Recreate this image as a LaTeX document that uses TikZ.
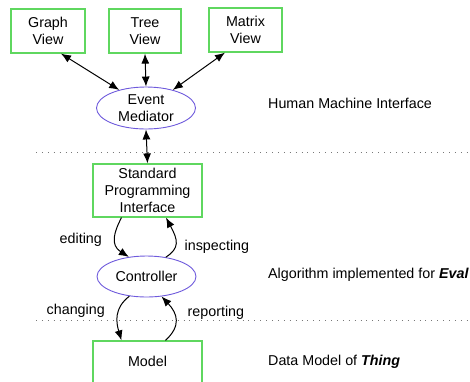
\documentclass[tikz,border=0pt]{standalone}
\usepackage{fontspec}
\setmainfont{Liberation Sans}
\usetikzlibrary{shapes.geometric,arrows.meta}
\definecolor{boxgreen}{RGB}{95,215,95}
\definecolor{ellblue}{RGB}{110,90,220}
\definecolor{dotgray}{RGB}{120,120,120}
\begin{document}
\begin{tikzpicture}[x=1pt,y=-1pt,
  font=\fontsize{14.3}{17}\selectfont,
  viewbox/.style={draw=boxgreen,line width=1.2pt,rectangle,inner sep=0pt,align=center},
  ellbox/.style={draw=ellblue,line width=0.9pt,ellipse,inner sep=0pt,align=center,minimum width=99pt},
  link/.style={line width=1pt,-{Latex[length=10pt,width=8pt]}},
  dlink/.style={line width=1pt,{Latex[length=10pt,width=8pt]}-{Latex[length=10pt,width=8pt]}},
  layer/.style={draw=dotgray,line width=0.9pt,dash pattern=on 0.9pt off 5pt},
  lbl/.style={inner sep=0pt,anchor=west}]
\useasboundingbox (0,0) rectangle (470,381);

% view boxes
\node[viewbox,minimum width=74pt,minimum height=44pt] (gv) at (48,31) {Graph\\View};
\node[viewbox,minimum width=72pt,minimum height=44pt] (tv) at (145,31) {Tree\\View};
\node[viewbox,minimum width=73pt,minimum height=44pt] (mv) at (245.5,30) {Matrix\\View};

% mediator and controller
\node[ellbox,minimum height=42pt] (em) at (146,108) {Event\\Mediator};
\node[ellbox,minimum height=41pt] (ctl) at (146.5,276.5) {Controller};

% programming interface and model
\node[viewbox,minimum width=109pt,minimum height=53pt] (spi) at (147.5,190.5) {Standard\\Programming\\Interface};
\node[viewbox,minimum width=109pt,minimum height=50pt] (mdl) at (147.5,366) {};
\node at (147.5,361) {Model};

% layer separators
\coordinate (s1a) at (36,152);
\coordinate (s1b) at (470,152);
\coordinate (s2a) at (36,320.5);
\coordinate (s2b) at (470,320.5);
\draw[layer] (s1a) -- (s1b);
\draw[layer] (s2a) -- (s2b);

% view connections
\draw[dlink] ([xshift=13pt]gv.south) -- (em.146);
\draw[dlink] (tv.south) -- (em.north);
\draw[dlink] ([xshift=-20.5pt]mv.south) -- (em.34);
\draw[dlink] (em.south) -- (spi.north);

% control flow
\draw[link] ([xshift=-26pt]spi.south) .. controls (114,232) and (110,245) .. (ctl.132);
\draw[link] (ctl.45) .. controls (180,248) and (178,240) .. ([xshift=18.5pt]spi.south);
\draw[link] (ctl.229) .. controls (114,308) and (116,322) .. ([xshift=-26pt]mdl.north);
\draw[link] ([xshift=18pt]mdl.north) .. controls (181,326) and (178,314) .. (ctl.307);

% arrow labels
\node[lbl] (ed) at (59.5,240) {editing};
\node[lbl] (ins) at (184.5,247) {inspecting};
\node[lbl] (ch) at (46.5,311) {changing};
\node[lbl] (rep) at (187.5,313) {reporting};

% layer names
\node[lbl] (l1) at (268,103) {Human Machine Interface};
\node[lbl] (l2) at (268,275) {Algorithm implemented for \textbf{\textit{Eval}}};
\node[lbl] (l3) at (268,362) {Data Model of \textbf{\textit{Thing}}};
\end{tikzpicture}
\end{document}
